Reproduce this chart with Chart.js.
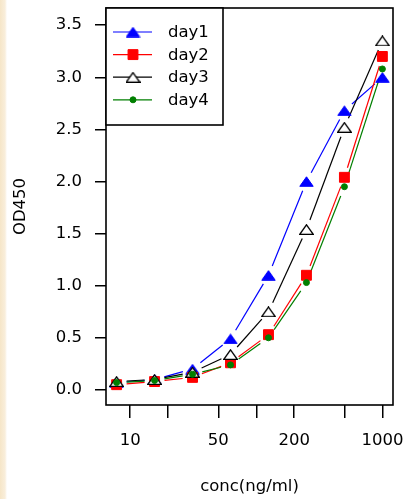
<!DOCTYPE html>
<html>
<head>
<meta charset="utf-8">
<script src="https://cdn.jsdelivr.net/npm/chart.js@4/dist/chart.umd.min.js"></script>
<style>
    html, body { margin: 0; padding: 0; }
    body {
        width: 404px;
        height: 499px;
        overflow: hidden;
        background: linear-gradient(to right, #f6e6c8 0px, #f9eedb 5px, #ffffff 7px);
    }
    canvas { display: block; filter: blur(0.4px); }
</style>
</head>
<body>
<canvas id="od_chart" width="404" height="499"></canvas>
<script>
// Concentrations (ng/ml), two-fold dilution series
const conc = [7.8125, 15.625, 31.25, 62.5, 125, 250, 500, 1000];

// OD450 readings per day
const day1 = [0.07, 0.10, 0.20, 0.49, 1.10, 2.00, 2.68, 3.00];
const day2 = [0.05, 0.08, 0.12, 0.26, 0.53, 1.10, 2.04, 3.20];
const day3 = [0.08, 0.10, 0.17, 0.34, 0.75, 1.54, 2.52, 3.35];
const day4 = [0.07, 0.09, 0.15, 0.24, 0.50, 1.03, 1.95, 3.08];

const seriesNames = ["day1", "day2", "day3", "day4"];

// Axis ticks
const xTicks = [10, 20, 50, 100, 200, 500, 1000];
const xTickLabels = [10, 50, 200, 1000];
const yTicks = [0, 0.5, 1.0, 1.5, 2.0, 2.5, 3.0, 3.5];

const FONT = "'DejaVu Sans', sans-serif";
const TEXT = "#000000";
const GAP = 10; // R type="b" gap around each point

// R draws its triangles a bit flat at this size, so build them as small images
function makeTriangle(fill, stroke, lw) {
    const c = document.createElement("canvas");
    c.width = 15;
    c.height = 11;
    const g = c.getContext("2d");
    g.beginPath();
    g.moveTo(7.5, 0.8);
    g.lineTo(14.2, 10.3);
    g.lineTo(0.8, 10.3);
    g.closePath();
    g.fillStyle = fill;
    g.fill();
    g.lineWidth = lw;
    g.strokeStyle = stroke;
    g.stroke();
    return c;
}

const styles = [
    { color: "#0000ff", fill: "#0000ff", shape: makeTriangle("#0000ff", "#0000ff", 1), radius: 6, border: 1 },
    { color: "#ff0000", fill: "#ff0000", shape: "rect", radius: 7, border: 1 },
    { color: "#000000", fill: "#ffffff", shape: makeTriangle("#ffffff", "#000000", 1.3), radius: 6, border: 1.3 },
    { color: "#007f00", fill: "#007f00", shape: "circle", radius: 3, border: 1 }
];

const allDays = [day1, day2, day3, day4];

const datasets = allDays.map((vals, i) => ({
    label: seriesNames[i],
    data: conc.map((c, k) => ({ x: c, y: vals[k] })),
    showLine: false,
    borderColor: styles[i].color,
    pointStyle: styles[i].shape,
    pointRadius: styles[i].radius,
    pointBackgroundColor: styles[i].fill,
    pointBorderColor: styles[i].color,
    pointBorderWidth: styles[i].border,
    order: 4 - i // later series drawn on top, like R
}));

// Lines between points with a small gap at each end (R type = "b")
const gapLines = {
    id: "gapLines",
    beforeDatasetsDraw(chart) {
        const ctx = chart.ctx;
        chart.data.datasets.forEach((ds, i) => {
            const pts = chart.getDatasetMeta(i).data;
            ctx.save();
            ctx.strokeStyle = ds.borderColor;
            ctx.lineWidth = 1.2;
            for (let k = 1; k < pts.length; k++) {
                const a = pts[k - 1], b = pts[k];
                const dx = b.x - a.x, dy = b.y - a.y;
                const len = Math.hypot(dx, dy);
                if (len <= 2 * GAP) continue;
                const ux = dx / len, uy = dy / len;
                ctx.beginPath();
                ctx.moveTo(a.x + ux * GAP, a.y + uy * GAP);
                ctx.lineTo(b.x - ux * GAP, b.y - uy * GAP);
                ctx.stroke();
            }
            ctx.restore();
        });
    }
};

// Plot box + legend in the top-left corner
const boxAndLegend = {
    id: "boxAndLegend",
    afterDraw(chart) {
        const ctx = chart.ctx;
        const area = chart.chartArea;
        ctx.save();
        ctx.strokeStyle = "#000";
        ctx.lineWidth = 1.6;
        ctx.strokeRect(area.left, area.top, area.right - area.left, area.bottom - area.top);

        // legend box
        const lx = area.left, ly = area.top, lw = 117, lh = 117;
        ctx.fillStyle = "#fff";
        ctx.fillRect(lx, ly, lw, lh);
        ctx.strokeRect(lx, ly, lw, lh);

        ctx.font = "16.5px " + FONT;
        ctx.textBaseline = "middle";
        ctx.textAlign = "left";
        seriesNames.forEach((name, i) => {
            const y = ly + 24 + i * 22.6;
            const s = styles[i];
            ctx.strokeStyle = s.color;
            ctx.lineWidth = 1.2;
            ctx.beginPath();
            ctx.moveTo(lx + 7, y);
            ctx.lineTo(lx + 46, y);
            ctx.stroke();
            ctx.fillStyle = s.fill;
            ctx.strokeStyle = s.color;
            ctx.lineWidth = s.border;
            Chart.helpers.drawPoint(ctx, { pointStyle: s.shape, radius: s.radius, rotation: 0, borderWidth: s.border }, lx + 27, y);
            ctx.fillStyle = TEXT;
            ctx.fillText(name, lx + 62, y + 1);
        });
        ctx.restore();
    }
};

new Chart(document.getElementById("od_chart"), {
    type: "line",
    data: { datasets: datasets },
    options: {
        responsive: false,
        animation: false,
        events: [],
        layout: { padding: { top: 8, right: 11, left: 0, bottom: 0 } },
        plugins: {
            legend: { display: false },
            tooltip: { enabled: false }
        },
        scales: {
            x: {
                type: "logarithmic",
                min: 6.436,
                max: 1214,
                afterBuildTicks: (scale) => { scale.ticks = xTicks.map(v => ({ value: v })); },
                afterFit: (scale) => {
                    scale.height = 94;
                    scale.paddingLeft = 0;
                    scale.paddingRight = 0;
                },
                border: { display: false },
                grid: {
                    drawOnChartArea: false,
                    drawTicks: true,
                    tickLength: 13,
                    color: "#000",
                    lineWidth: 1.5
                },
                ticks: {
                    autoSkip: false,
                    maxRotation: 0,
                    padding: 13,
                    color: TEXT,
                    font: { family: FONT, size: 16.5 },
                    callback: (value) => xTickLabels.includes(value) ? String(value) : ""
                },
                title: {
                    display: true,
                    text: "conc(ng/ml)",
                    color: TEXT,
                    font: { family: FONT, size: 16.5 },
                    padding: { top: 0, bottom: 2 }
                }
            },
            y: {
                min: -0.145,
                max: 3.665,
                afterBuildTicks: (scale) => { scale.ticks = yTicks.map(v => ({ value: v })); },
                afterFit: (scale) => {
                    scale.width = 106;
                    scale.paddingTop = 0;
                    scale.paddingBottom = 0;
                },
                border: { display: false },
                grid: {
                    drawOnChartArea: false,
                    drawTicks: true,
                    tickLength: 11,
                    color: "#000",
                    lineWidth: 1.5
                },
                ticks: {
                    padding: 13,
                    color: TEXT,
                    font: { family: FONT, size: 16.5 },
                    callback: (value) => Number(value).toFixed(1)
                },
                title: {
                    display: true,
                    text: "OD450",
                    color: TEXT,
                    font: { family: FONT, size: 16.5 },
                    padding: { top: 11, bottom: 0 }
                }
            }
        }
    },
    plugins: [gapLines, boxAndLegend]
});
</script>
</body>
</html>
